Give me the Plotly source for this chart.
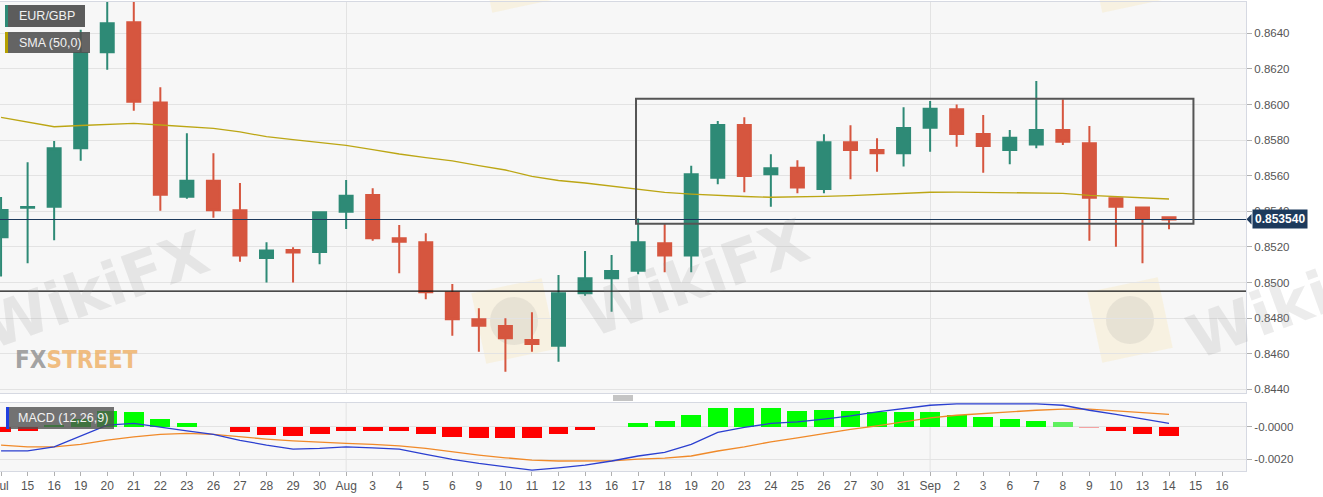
import math
import plotly.graph_objects as go

# ---------------- data ----------------
date_labels = ["Jul", "15", "16", "19", "20", "21", "22", "23", "26", "27", "28", "29", "30",
               "Aug", "3", "4", "5", "6", "9", "10", "11", "12", "13", "16", "17", "18", "19",
               "20", "23", "24", "25", "26", "27", "30", "31", "Sep", "2", "3", "6", "7", "8",
               "9", "10", "13", "14", "15", "16"]

opens = [0.85254, 0.85420, 0.85426, 0.85754, 0.86293, 0.86462, 0.86012, 0.85482, 0.85572, 0.85406,
         0.85138, 0.85182, 0.85171, 0.85398, 0.85492, 0.85248, 0.85226, 0.84943, 0.84793, 0.84756,
         0.84677, 0.84645, 0.84939, 0.85024, 0.85066, 0.85220, 0.85151, 0.85589, 0.85885, 0.85608,
         0.85645, 0.85525, 0.85788, 0.85744, 0.85726, 0.85870, 0.85973, 0.85834, 0.85744, 0.85776,
         0.85857, 0.85782, 0.85473, 0.85422, 0.85366]
highs = [0.85480, 0.85675, 0.85795, 0.86420, 0.86600, 0.86578, 0.86097, 0.85838, 0.85726, 0.85559,
         0.85226, 0.85198, 0.85396, 0.85576, 0.85529, 0.85323, 0.85276, 0.84992, 0.84855, 0.84799,
         0.84833, 0.85042, 0.85177, 0.85154, 0.85360, 0.85329, 0.85656, 0.85907, 0.85928, 0.85720,
         0.85687, 0.85833, 0.85883, 0.85810, 0.85984, 0.86020, 0.86000, 0.85941, 0.85857, 0.86132,
         0.86029, 0.85879, 0.85475, 0.85424, 0.85367]
lows = [0.85033, 0.85108, 0.85237, 0.85684, 0.86196, 0.85965, 0.85403, 0.85471, 0.85364, 0.85117,
        0.85000, 0.85000, 0.85102, 0.85301, 0.85235, 0.85052, 0.84906, 0.84701, 0.84611, 0.84499,
        0.84611, 0.84555, 0.84926, 0.84836, 0.85046, 0.85057, 0.85057, 0.85552, 0.85507, 0.85426,
        0.85501, 0.85501, 0.85580, 0.85622, 0.85651, 0.85735, 0.85763, 0.85617, 0.85664, 0.85754,
        0.85772, 0.85235, 0.85201, 0.85108, 0.85299]
closes = [0.85407, 0.85424, 0.85754, 0.86290, 0.86456, 0.86016, 0.85493, 0.85572, 0.85406, 0.85151,
          0.85179, 0.85168, 0.85394, 0.85488, 0.85248, 0.85229, 0.84945, 0.84793, 0.84757, 0.84687,
          0.84654, 0.84939, 0.85024, 0.85065, 0.85226, 0.85151, 0.85608, 0.85885, 0.85598, 0.85642,
          0.85533, 0.85788, 0.85744, 0.85726, 0.85868, 0.85976, 0.85834, 0.85767, 0.85813, 0.85857,
          0.85791, 0.85476, 0.85426, 0.85356, 0.85354]

sma_50 = [0.85928, 0.85902, 0.85875, 0.85882, 0.85890, 0.85894, 0.85885, 0.85876, 0.85866, 0.85846,
          0.85819, 0.85803, 0.85785, 0.85770, 0.85747, 0.85722, 0.85702, 0.85683, 0.85657, 0.85632,
          0.85596, 0.85573, 0.85559, 0.85540, 0.85525, 0.85506, 0.85497, 0.85489, 0.85483, 0.85479,
          0.85480, 0.85484, 0.85488, 0.85494, 0.85501, 0.85507, 0.85508, 0.85506, 0.85504, 0.85503,
          0.85501, 0.85490, 0.85483, 0.85476, 0.85469]

macd_line = [-0.00149, -0.00149, -0.00124, -0.00056, 0.00011, 0.00021, -0.00004, -0.00025, -0.00047, -0.00084,
             -0.00113, -0.00138, -0.00134, -0.00124, -0.00130, -0.00138, -0.00171, -0.00202, -0.00227, -0.00248,
             -0.00268, -0.00254, -0.00237, -0.00212, -0.00181, -0.00159, -0.00109, -0.00035, -0.00004, 0.00021,
             0.00031, 0.00048, 0.00068, 0.00093, 0.00114, 0.00134, 0.00142, 0.00141, 0.00141, 0.00142,
             0.00134, 0.00103, 0.00077, 0.00048, 0.00021]
signal_line = [-0.00113, -0.00124, -0.00124, -0.00109, -0.00082, -0.00062, -0.00047, -0.00041, -0.00047, -0.00062,
               -0.00076, -0.00087, -0.00097, -0.00103, -0.00109, -0.00118, -0.00134, -0.00155, -0.00175, -0.00192,
               -0.00206, -0.00212, -0.00212, -0.00211, -0.00200, -0.00194, -0.00181, -0.00150, -0.00124, -0.00093,
               -0.00068, -0.00041, -0.00016, 0.00006, 0.00031, 0.00056, 0.00072, 0.00083, 0.00093, 0.00103,
               0.00110, 0.00110, 0.00099, 0.00089, 0.00077]
macd_hist = [-0.00031, -0.00025, 0.00012, 0.00050, 0.00097, 0.00089, 0.00047, 0.00025, -0.00002, -0.00035,
             -0.00052, -0.00058, -0.00043, -0.00025, -0.00027, -0.00027, -0.00043, -0.00060, -0.00070, -0.00072,
             -0.00072, -0.00047, -0.00021, -0.00002, 0.00025, 0.00037, 0.00072, 0.00114, 0.00114, 0.00114,
             0.00099, 0.00103, 0.00099, 0.00093, 0.00089, 0.00089, 0.00076, 0.00058, 0.00047, 0.00039,
             0.00027, -0.00006, -0.00027, -0.00043, -0.00056]

price_ticks = [0.8440, 0.8460, 0.8480, 0.8500, 0.8520, 0.8540, 0.8560, 0.8580, 0.8600, 0.8620, 0.8640]
macd_ticks = [-0.0020, 0.0]
macd_tick_text = ["-0.0020", "-0.0000"]

last_price = 0.853540
support_level = 0.84951
box_x = [23.92, 44.92]
box_y = [0.85330, 0.86033]

# ---------------- styling helpers ----------------
W, H = 1323, 497
ML, MR, MT, MB = 0, 77, 2, 26
PW, PH = W - ML - MR, H - MT - MB


def px(x):
    return (x - ML) / PW


def py(y):
    return (H - MB - y) / PH


GREEN = "#2e8a76"
RED = "#d6563f"
GRID = "#e3e3e3"
BORDER = "#d6d9e2"
FONT = "Arial, Liberation Sans, sans-serif"

n = len(closes)
idx = list(range(n))
all_idx = list(range(len(date_labels)))

hist_colors = []
for i, v in enumerate(macd_hist):
    if i == 40:
        hist_colors.append("#5ff05f")
    elif i == 41:
        hist_colors.append("#f5a3a3")
    elif abs(v) < 0.00004:
        hist_colors.append("#f08a8a")
    elif v >= 0:
        hist_colors.append("#00ff00")
    else:
        hist_colors.append("#ff0000")

fig = go.Figure()

fig.add_trace(go.Candlestick(
    x=idx, open=opens, high=highs, low=lows, close=closes,
    increasing=dict(line=dict(color=GREEN, width=2), fillcolor=GREEN),
    decreasing=dict(line=dict(color=RED, width=2), fillcolor=RED),
    whiskerwidth=0, showlegend=False, xaxis="x", yaxis="y"))

fig.add_trace(go.Scatter(x=idx, y=sma_50, mode="lines",
                         line=dict(color="#bca614", width=1.3),
                         showlegend=False, xaxis="x", yaxis="y"))

fig.add_trace(go.Bar(x=idx, y=macd_hist, marker=dict(color=hist_colors, line=dict(width=0)),
                     width=0.75, showlegend=False, xaxis="x2", yaxis="y2"))
fig.add_trace(go.Scatter(x=idx, y=signal_line, mode="lines",
                         line=dict(color="#f08a2a", width=1.3),
                         showlegend=False, xaxis="x2", yaxis="y2"))
fig.add_trace(go.Scatter(x=idx, y=macd_line, mode="lines",
                         line=dict(color="#2b3fd0", width=1.3),
                         showlegend=False, xaxis="x2", yaxis="y2"))

xr = [-0.04, 46.9]
main_bottom = py(393)
macd_top = py(402.5)

shapes = []
for m in (13, 35):
    shapes.append(dict(type="line", xref="x2", yref="y2 domain", x0=m, x1=m, y0=0, y1=1,
                       line=dict(color=GRID, width=1), layer="below"))
shapes.append(dict(type="line", xref="paper", yref="y", x0=0, x1=1,
                   y0=support_level, y1=support_level, line=dict(color="#111111", width=1.3)))
shapes.append(dict(type="line", xref="paper", yref="y", x0=0, x1=1,
                   y0=last_price, y1=last_price, line=dict(color="#1d3a5c", width=1.2)))
shapes.append(dict(type="rect", xref="x", yref="y", x0=box_x[0], x1=box_x[1],
                   y0=box_y[0], y1=box_y[1], line=dict(color="#555555", width=2),
                   fillcolor="rgba(0,0,0,0)"))


def rot_square(cx, cy, s, ang):
    a = math.radians(ang)
    pts = []
    for dx, dy in ((-s, -s), (s, -s), (s, s), (-s, s)):
        x = cx + dx * math.cos(a) - dy * math.sin(a)
        y = cy + dx * math.sin(a) + dy * math.cos(a)
        pts.append((px(x), py(y)))
    return "M " + " L ".join(f"{x:.5f},{y:.5f}" for x, y in pts) + " Z"


for cx, cy in ((514, 321), (1130, 320), (520, -30), (1130, -30)):
    shapes.append(dict(type="path", xref="paper", yref="paper", path=rot_square(cx, cy, 36, -12),
                       fillcolor="rgba(250,222,150,0.22)", line=dict(width=0), layer="below"))
    shapes.append(dict(type="circle", xref="paper", yref="paper",
                       x0=px(cx - 24), x1=px(cx + 24), y0=py(cy + 24), y1=py(cy - 24),
                       fillcolor="rgba(150,150,150,0.16)", line=dict(width=0), layer="below"))


def label_box(x0, x1, y0, y1, stripe, alpha):
    shapes.append(dict(type="rect", xref="paper", yref="paper", x0=px(x0), x1=px(x1),
                       y0=py(y1), y1=py(y0), fillcolor=f"rgba(80,80,80,{alpha})",
                       line=dict(width=0), layer="above"))
    shapes.append(dict(type="rect", xref="paper", yref="paper", x0=px(x0), x1=px(x0 + 3),
                       y0=py(y1), y1=py(y0), fillcolor=stripe,
                       line=dict(width=0), layer="above"))


label_box(5, 85, 5, 27, GREEN, 0.93)
label_box(5, 90, 32, 53, "#b5a000", 0.88)
label_box(6, 114, 407, 429, "#1f3fe0", 0.8)

shapes.append(dict(type="path", xref="paper", yref="paper",
                   path=f"M {px(1246.5):.5f},{py(219.3):.5f} L {px(1251.5):.5f},{py(214):.5f} "
                        f"L {px(1251.5):.5f},{py(224.6):.5f} Z",
                   fillcolor="#1d3a5c", line=dict(width=0)))

for yy in (396, 398, 400):
    shapes.append(dict(type="line", xref="paper", yref="paper", x0=px(613), x1=px(633),
                       y0=py(yy), y1=py(yy), line=dict(color="#8a8a8a", width=1)))

annotations = []
for txt, yc, xl in (("EUR/GBP", 16, 17), ("SMA (50,0)", 42.5, 17), ("MACD (12,26,9)", 418, 16)):
    annotations.append(dict(text=txt, xref="paper", yref="paper", x=px(xl), y=py(yc),
                            xanchor="left", yanchor="middle", showarrow=False,
                            font=dict(family=FONT, size=12.5, color="#f2f2f2")))

annotations.append(dict(text="<b>0.853540</b>", xref="paper", yref="y", x=px(1251.5), y=last_price,
                        xanchor="left", yanchor="middle", showarrow=False,
                        bgcolor="#1d3a5c", borderpad=2,
                        font=dict(family=FONT, size=12, color="white")))

for cx, cy in ((95, 290), (695, 278), (1300, 300)):
    annotations.append(dict(text="<b>WikiFX</b>", xref="paper", yref="paper", x=px(cx), y=py(cy),
                            xanchor="center", yanchor="middle", showarrow=False, textangle=-20,
                            font=dict(family="DejaVu Sans, Arial", size=60,
                                      color="rgba(150,150,150,0.18)")))

annotations.append(dict(
    text="<b><span style='color:rgba(140,140,140,0.8)'>FX</span>"
         "<span style='color:rgba(238,170,90,0.75)'>STREET</span></b>",
    xref="paper", yref="paper", x=px(13), y=py(360), xanchor="left", yanchor="middle",
    showarrow=False,
    font=dict(family="Liberation Sans Narrow, DejaVu Sans Condensed, Arial Narrow, sans-serif",
              size=24)))

fig.update_layout(
    width=W, height=H,
    margin=dict(l=ML, r=MR, t=MT, b=MB),
    paper_bgcolor="white", plot_bgcolor="#f7f7f7",
    showlegend=False, bargap=0, boxgap=0.3, hovermode=False,
    xaxis=dict(domain=[0, 1], anchor="y", range=xr, tickvals=[13, 35], showticklabels=False,
               ticks="", showgrid=True, gridcolor=GRID, zeroline=False,
               showline=True, mirror=True, linecolor=BORDER, linewidth=1,
               rangeslider=dict(visible=False), fixedrange=True),
    yaxis=dict(domain=[main_bottom, 1], anchor="x", side="right", range=[0.84379, 0.86576],
               tickvals=price_ticks, tickformat=".4f", ticks="outside", ticklen=5,
               tickcolor="#b0b0b0", showgrid=True, gridcolor=GRID, zeroline=False,
               showline=True, mirror=True, linecolor=BORDER, linewidth=1,
               tickfont=dict(family=FONT, size=11.5, color="#555555")),
    xaxis2=dict(domain=[0, 1], anchor="y2", range=xr, tickvals=all_idx, ticktext=date_labels,
                tickangle=0, ticks="outside", ticklen=4, tickcolor="#b0b0b0", showgrid=False,
                zeroline=False, showline=True, mirror=True, linecolor=BORDER, linewidth=1,
                automargin=False, ticklabeloverflow="allow",
                tickfont=dict(family=FONT, size=12, color="#555555")),
    yaxis2=dict(domain=[0, macd_top], anchor="x2", side="right", range=[-0.00274, 0.00151],
                tickvals=macd_ticks, ticktext=macd_tick_text, ticks="outside", ticklen=5,
                tickcolor="#b0b0b0", showgrid=True, gridcolor=GRID, zeroline=False,
                showline=True, mirror=True, linecolor=BORDER, linewidth=1,
                tickfont=dict(family=FONT, size=11.5, color="#555555")),
    shapes=shapes, annotations=annotations,
)

fig.write_html("out.html",
               config={"displayModeBar": False, "staticPlot": True},
               post_script="document.body.style.margin='0';document.body.style.padding='0';"
                           "document.body.style.overflow='hidden';")
